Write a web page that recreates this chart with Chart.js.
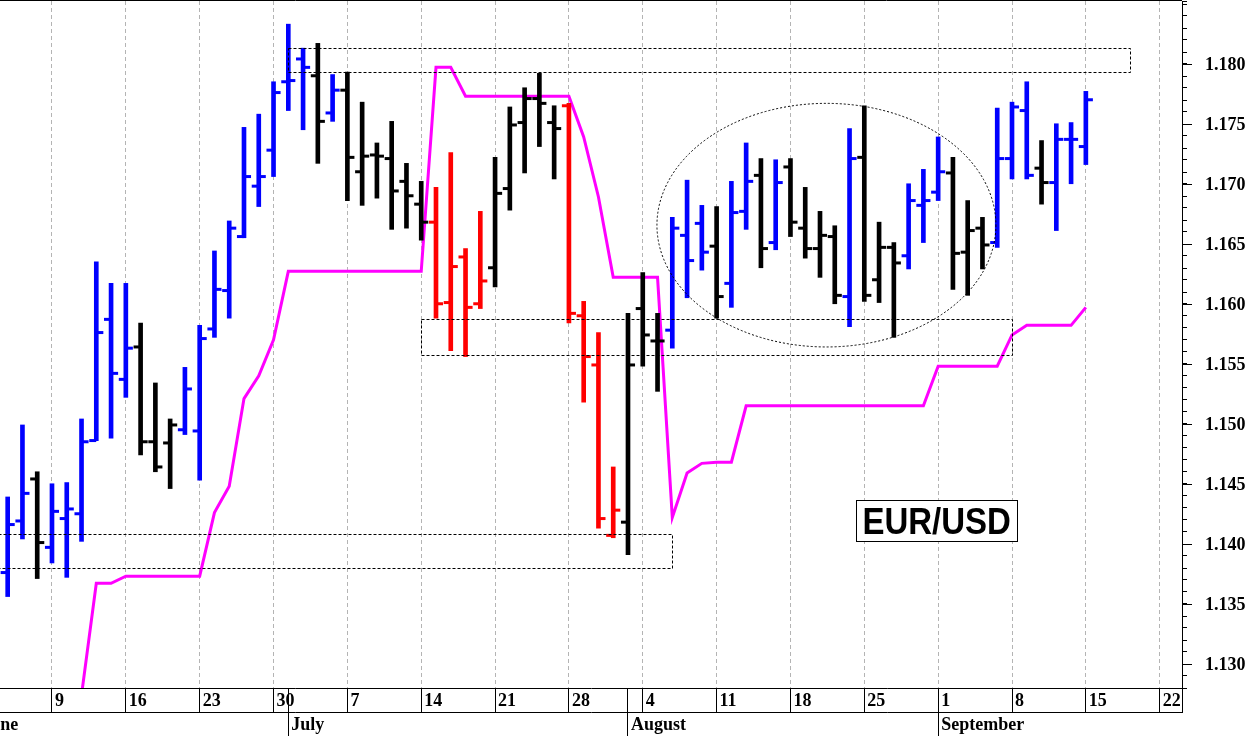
<!DOCTYPE html>
<html lang="en">
<head>
    <meta charset="UTF-8">
    <title>EUR/USD daily</title>
    <script src="https://cdn.jsdelivr.net/npm/chart.js"></script>
    <style>
        html, body { margin: 0; padding: 0; background: #ffffff; }
        #chart-div { width: 1253px; height: 736px; }
    </style>
</head>
<body>
<div id="chart-div"><canvas id="chart" width="1253" height="736"></canvas></div>
<script>
    // trading days (2025), x position = index in this list
    const days = ['06-04','06-05','06-06','06-09','06-10','06-11','06-12','06-13','06-16','06-17',
                  '06-18','06-19','06-20','06-23','06-24','06-25','06-26','06-27','06-30','07-01',
                  '07-02','07-03','07-04','07-07','07-08','07-09','07-10','07-11','07-14','07-15',
                  '07-16','07-17','07-18','07-21','07-22','07-23','07-24','07-25','07-28','07-29',
                  '07-30','07-31','08-01','08-04','08-05','08-06','08-07','08-08','08-11','08-12',
                  '08-13','08-14','08-15','08-18','08-19','08-20','08-21','08-22','08-25','08-26',
                  '08-27','08-28','08-29','09-01','09-02','09-03','09-04','09-05','09-08','09-09',
                  '09-10','09-11','09-12','09-15'];
    const opens  = [1.1377,1.1420,1.1455,1.1398,1.1422,1.1426,1.1487,1.1588,1.1538,1.1565,
                    1.1486,1.1485,1.1496,1.1495,1.1580,1.1612,1.1657,1.1699,1.1729,1.1786,
                    1.1805,1.1791,1.1760,1.1779,1.1711,1.1725,1.1722,1.1703,1.1684,1.1669,
                    1.1602,1.1640,1.1601,1.1631,1.1697,1.1752,1.1772,1.1752,1.1766,1.1591,
                    1.1550,1.1408,1.1419,1.1597,1.1570,1.1579,1.1658,1.1668,1.1649,1.1618,
                    1.1678,1.1708,1.1652,1.1715,1.1664,1.1647,1.1657,1.1607,1.1723,1.1621,
                    1.1648,1.1641,1.1683,1.1694,1.1710,1.1644,1.1664,1.1652,1.1722,1.1762,
                    1.1714,1.1702,1.1738,1.1732];
    const highs  = [1.1440,1.1500,1.1461,1.1451,1.1452,1.1505,1.1636,1.1618,1.1618,1.1585,
                    1.1535,1.1505,1.1548,1.1583,1.1645,1.1670,1.1748,1.1759,1.1786,1.1834,
                    1.1814,1.1818,1.1792,1.1794,1.1769,1.1735,1.1753,1.1718,1.1703,1.1698,
                    1.1727,1.1647,1.1678,1.1723,1.1765,1.1781,1.1793,1.1766,1.1768,1.1603,
                    1.1577,1.1465,1.1593,1.1627,1.1593,1.1673,1.1704,1.1683,1.1682,1.1703,
                    1.1735,1.1722,1.1721,1.1722,1.1698,1.1678,1.1666,1.1747,1.1766,1.1669,
                    1.1652,1.1701,1.1713,1.1740,1.1723,1.1687,1.1673,1.1764,1.1769,1.1786,
                    1.1737,1.1751,1.1752,1.1778];
    const lows   = [1.1357,1.1405,1.1372,1.1385,1.1373,1.1403,1.1487,1.1489,1.1523,1.1475,
                    1.1461,1.1447,1.1492,1.1454,1.1573,1.1589,1.1656,1.1682,1.1707,1.1762,
                    1.1746,1.1718,1.1753,1.1687,1.1683,1.1689,1.1663,1.1664,1.1654,1.1589,
                    1.1562,1.1557,1.1597,1.1615,1.1679,1.1710,1.1732,1.1705,1.1585,1.1519,
                    1.1414,1.1406,1.1392,1.1549,1.1528,1.1564,1.1606,1.1629,1.1589,1.1598,
                    1.1663,1.1631,1.1646,1.1657,1.1639,1.1623,1.1601,1.1582,1.1603,1.1602,
                    1.1573,1.1630,1.1652,1.1687,1.1613,1.1608,1.1630,1.1648,1.1705,1.1705,
                    1.1684,1.1662,1.1701,1.1717];
    const closes = [1.1417,1.1443,1.1402,1.1428,1.1430,1.1486,1.1577,1.1543,1.1564,1.1486,
                    1.1465,1.1500,1.1530,1.1572,1.1613,1.1664,1.1707,1.1707,1.1777,1.1787,
                    1.1798,1.1753,1.1779,1.1723,1.1724,1.1724,1.1695,1.1691,1.1669,1.1601,
                    1.1632,1.1598,1.1620,1.1693,1.1750,1.1772,1.1768,1.1747,1.1593,1.1557,
                    1.1422,1.1429,1.1550,1.1575,1.1570,1.1664,1.1637,1.1644,1.1607,1.1677,
                    1.1703,1.1647,1.1702,1.1669,1.1647,1.1658,1.1608,1.1722,1.1608,1.1648,
                    1.1635,1.1687,1.1687,1.1711,1.1643,1.1662,1.1650,1.1722,1.1765,1.1708,
                    1.1702,1.1738,1.1738,1.1771];
    // bar tone: 1 = blue, 0 = black, -1 = red
    const trend  = [1,1,0,1,1,1,1,1,1,0,
                    0,0,1,1,1,1,1,1,1,1,
                    1,0,1,0,0,0,0,0,0,-1,
                    -1,-1,-1,0,0,0,0,0,-1,-1,
                    -1,-1,0,0,0,1,1,1,0,1,
                    1,0,1,0,0,0,0,1,0,0,
                    0,1,1,1,0,0,0,1,1,1,
                    0,1,1,1];
    // magenta trailing line
    const stopLine = [null,null,null,null,null,1.1275,1.1368,1.1368,1.1374,1.1374,
                      1.1374,1.1374,1.1374,1.1374,1.1427,1.1449,1.1522,1.1541,1.1571,1.1628,
                      1.1628,1.1628,1.1628,1.1628,1.1628,1.1628,1.1628,1.1628,1.1628,1.1798,
                      1.1798,1.1774,1.1774,1.1774,1.1774,1.1774,1.1774,1.1774,1.1774,1.1740,
                      1.1690,1.1623,1.1623,1.1623,1.1623,1.1423,1.1460,1.1468,1.1469,1.1469,
                      1.1516,1.1516,1.1516,1.1516,1.1516,1.1516,1.1516,1.1516,1.1516,1.1516,
                      1.1516,1.1516,1.1516,1.1549,1.1549,1.1549,1.1549,1.1549,1.1575,1.1583,
                      1.1583,1.1583,1.1583,1.1598];

    const priceTicks = [1.130, 1.135, 1.140, 1.145, 1.150, 1.155, 1.160, 1.165, 1.170, 1.175, 1.180];
    const weekPos = [3, 8, 13, 18, 23, 28, 33, 38, 43, 48, 53, 58, 63, 68, 73, 78];
    const weekLabels = ['9', '16', '23', '30', '7', '14', '21', '28', '4', '11', '18', '25', '1', '8', '15', '22'];
    const monthPos = [-2, 19, 42, 63];
    const monthLabels = ['June', 'July', 'August', 'September'];

    // dashed boxes (trading-day span, price span)
    const zones = [
        {from: 19, to: 76, low: 1.1794, high: 1.1814},
        {from: 28, to: 68, low: 1.1558, high: 1.1588},
        {from: -3, to: 45, low: 1.1381, high: 1.1409}
    ];
    const oval = {from: 43.96, to: 66.91, low: 1.1565, high: 1.1768};
    const tag = {at: 62.9, price: 1.1420, text: 'EUR/USD'};

    const xMin = -0.52, xMax = 79.51;
    const yMin = 1.12808, yMax = 1.18533;

    const toneColor = {'1': '#0000ff', '0': '#000000', '-1': '#ff0000'};
    const barColors = trend.map(t => toneColor[t]);
    const tickReach = 0.24;
    const serif = {family: '"Liberation Serif", "Times New Roman", serif', size: 18, weight: 'bold'};
    const dayTicks = [...new Set([...weekPos, ...monthPos.filter(p => p > xMin), xMax])].sort((a, b) => a - b);

    // no extra room for overhanging labels
    function noPad(s) {
        s.paddingTop = 0;
        s.paddingBottom = 0;
        s.paddingLeft = 0;
        s.paddingRight = 0;
    }

    const overlay = {
        id: 'overlay',
        afterDatasetsDraw(chart) {
            const {ctx, chartArea: a, scales: {x, y}} = chart;
            ctx.save();
            ctx.strokeStyle = '#000';
            ctx.lineWidth = 1;
            ctx.beginPath();
            ctx.moveTo(a.left, a.top - 0.5);
            ctx.lineTo(a.right, a.top - 0.5);
            ctx.stroke();

            ctx.beginPath();
            ctx.rect(a.left, a.top, a.right - a.left, a.bottom - a.top);
            ctx.clip();

            ctx.setLineDash([3, 2]);
            zones.forEach(z => {
                const x0 = Math.round(x.getPixelForValue(z.from)) + 0.5;
                const x1 = Math.round(x.getPixelForValue(z.to)) + 0.5;
                const y0 = Math.round(y.getPixelForValue(z.high)) + 0.5;
                const y1 = Math.round(y.getPixelForValue(z.low)) + 0.5;
                ctx.strokeRect(x0, y0, x1 - x0, y1 - y0);
            });

            ctx.setLineDash([2, 2]);
            const ox0 = x.getPixelForValue(oval.from), ox1 = x.getPixelForValue(oval.to);
            const oy0 = y.getPixelForValue(oval.high), oy1 = y.getPixelForValue(oval.low);
            ctx.beginPath();
            ctx.ellipse((ox0 + ox1) / 2, (oy0 + oy1) / 2, (ox1 - ox0) / 2, (oy1 - oy0) / 2, 0, 0, Math.PI * 2);
            ctx.stroke();

            // label box
            ctx.setLineDash([]);
            const cx = x.getPixelForValue(tag.at), cy = y.getPixelForValue(tag.price);
            ctx.font = 'bold 33px "Liberation Sans", Arial, sans-serif';
            const w = ctx.measureText(tag.text).width + 12;
            const h = 41;
            ctx.fillStyle = '#fff';
            ctx.fillRect(Math.round(cx - w / 2), Math.round(cy - h / 2), Math.round(w), h);
            ctx.strokeRect(Math.round(cx - w / 2) + 0.5, Math.round(cy - h / 2) + 0.5, Math.round(w), h);
            ctx.fillStyle = '#000';
            ctx.textAlign = 'center';
            ctx.textBaseline = 'alphabetic';
            ctx.translate(cx, cy + 13.5);
            ctx.scale(1, 1.12);
            ctx.fillText(tag.text, 0, 0);
            ctx.restore();
        }
    };

    const ctx = document.getElementById('chart').getContext('2d');
    const chart = new Chart(ctx, {
        type: 'line',
        data: {
            datasets: [
                {
                    type: 'line',
                    order: 3,
                    data: stopLine.map((v, i) => ({x: i, y: v})),
                    borderColor: '#ff00ff',
                    borderWidth: 3,
                    pointRadius: 0,
                    tension: 0,
                    clip: 0,
                    xAxisID: 'x',
                    yAxisID: 'y'
                },
                {
                    type: 'bar',
                    order: 2,
                    data: days.map((d, i) => ({x: i, y: [lows[i], highs[i]]})),
                    backgroundColor: barColors,
                    borderWidth: 0,
                    barThickness: 4,
                    grouped: false,
                    xAxisID: 'x',
                    yAxisID: 'y'
                },
                {
                    type: 'scatter',
                    order: 1,
                    data: opens.map((v, i) => ({x: i - tickReach, y: v})),
                    pointStyle: 'line',
                    pointRadius: 3.5,
                    pointBorderWidth: 3,
                    pointBorderColor: barColors,
                    xAxisID: 'x',
                    yAxisID: 'y'
                },
                {
                    type: 'scatter',
                    order: 1,
                    data: closes.map((v, i) => ({x: i + tickReach, y: v})),
                    pointStyle: 'line',
                    pointRadius: 3.5,
                    pointBorderWidth: 3,
                    pointBorderColor: barColors,
                    xAxisID: 'x',
                    yAxisID: 'y'
                }
            ]
        },
        options: {
            responsive: false,
            devicePixelRatio: 1,
            animation: false,
            events: [],
            layout: {autoPadding: false, padding: {top: 1, left: 0, right: 0, bottom: 0}},
            plugins: {legend: {display: false}, tooltip: {enabled: false}},
            scales: {
                x: {
                    type: 'linear', position: 'bottom', weight: 0,
                    min: xMin, max: xMax, bounds: 'data', offset: false,
                    afterFit: s => { s.height = 24; noPad(s); },
                    afterBuildTicks: s => { s.ticks = dayTicks.map(v => ({value: v})); },
                    grid: {
                        offset: false,
                        color: c => (c.tick && weekPos.includes(c.tick.value)) ? '#b4b4b4' : 'rgba(0,0,0,0)',
                        lineWidth: 1,
                        tickLength: 24,
                        tickColor: '#000',
                        tickWidth: 1
                    },
                    border: {display: true, color: '#000', width: 1, dash: [4, 3]},
                    ticks: {
                        autoSkip: false, maxRotation: 0, minRotation: 0,
                        align: 'start', labelOffset: 3, padding: -21,
                        color: '#000', font: serif,
                        callback: v => { const k = weekPos.indexOf(v); return k < 0 ? '' : weekLabels[k]; }
                    }
                },
                x2: {
                    type: 'linear', position: 'bottom', weight: 1,
                    min: xMin, max: xMax, bounds: 'data', offset: false,
                    afterFit: s => { s.height = 24; noPad(s); },
                    afterBuildTicks: s => { s.ticks = monthPos.map(v => ({value: v})); },
                    grid: {offset: false, drawOnChartArea: false, tickLength: 24, tickColor: '#000', tickWidth: 1},
                    border: {display: true, color: '#000', width: 1},
                    ticks: {
                        autoSkip: false, maxRotation: 0, minRotation: 0,
                        align: 'start', labelOffset: 3, padding: -21,
                        color: '#000', font: serif,
                        callback: v => monthLabels[monthPos.indexOf(v)]
                    }
                },
                yMinor: {
                    type: 'linear', position: 'right', weight: 0,
                    min: yMin, max: yMax, bounds: 'data',
                    afterFit: s => { s.width = 0; noPad(s); },
                    grid: {drawOnChartArea: false, tickLength: 5, tickColor: '#000', tickWidth: 1},
                    border: {display: false},
                    ticks: {display: false, stepSize: 0.001, includeBounds: false}
                },
                y: {
                    type: 'linear', position: 'right', weight: 1,
                    min: yMin, max: yMax, bounds: 'data',
                    afterFit: s => { s.width = 71; noPad(s); },
                    afterBuildTicks: s => { s.ticks = priceTicks.map(v => ({value: v})); },
                    grid: {drawOnChartArea: false, tickLength: 10, tickColor: '#000', tickWidth: 1},
                    border: {display: true, color: '#000', width: 1},
                    ticks: {padding: 13, color: '#000', font: serif, callback: v => v.toFixed(3)}
                }
            }
        },
        plugins: [overlay]
    });
</script>
</body>
</html>
